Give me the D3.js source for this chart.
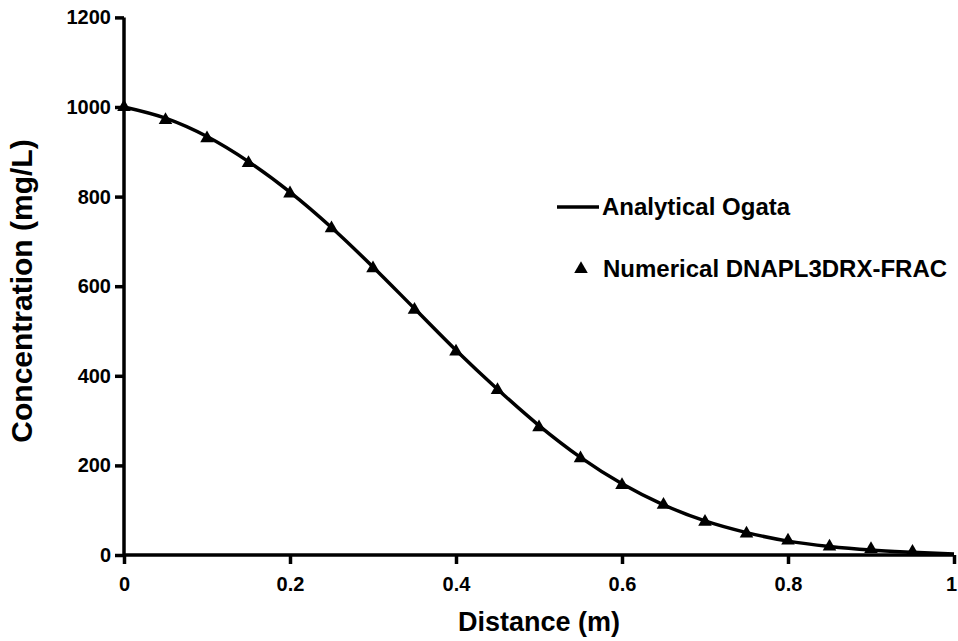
<!DOCTYPE html>
<html><head><meta charset="utf-8">
<script src="https://cdn.jsdelivr.net/npm/d3@7"></script>
<style>body{margin:0;background:#fff}svg{display:block}text{font-family:"Liberation Sans",Arial,sans-serif;font-weight:bold;fill:#000}</style>
</head><body>
<script>
const distance = [0,0.05,0.1,0.15,0.2,0.25,0.3,0.35,0.4,0.45,0.5,0.55,0.6,0.65,0.7,0.75,0.8,0.85,0.9,0.95];
const numerical = [1000,971,930,875,807,729,640,547,454,368,285,216,156,112,74,48,32,19,13,7];
const lineX = [0,0.05,0.1,0.15,0.2,0.25,0.3,0.35,0.4,0.45,0.5,0.55,0.6,0.65,0.7,0.75,0.8,0.85,0.9,0.95,1.0];
const analytical = [1000,975,934,878,810,731,643,550,457,370,289,218,159,112,76,50,31,19,11,6,2];
const xTicks = [0,0.2,0.4,0.6,0.8,1];
const yTicks = [0,200,400,600,800,1000,1200];

const W=958,H=641;
const svg=d3.select("body").append("svg").attr("width",W).attr("height",H);
const x=d3.scaleLinear().domain([0,1]).range([124,954]);
const y=d3.scaleLinear().domain([0,1200]).range([555,17.4]);

const ax=svg.append("g").attr("transform","translate(0,555)")
  .call(d3.axisBottom(x).tickValues(xTicks).tickSize(9).tickPadding(13).tickFormat(d=>d===0?"0":d===1?"1":d3.format(".1f")(d)));
const ay=svg.append("g").attr("transform","translate(124,0)")
  .call(d3.axisLeft(y).tickValues(yTicks).tickSize(9).tickPadding(4).tickFormat(d3.format("d")));
[ax,ay].forEach(g=>{
  g.selectAll("path").attr("stroke","#000").attr("stroke-width",3.5);
  g.selectAll("line").attr("stroke","#000").attr("stroke-width",3.5);
  g.selectAll("text").attr("font-size",20).attr("font-family",'"Liberation Sans",Arial,sans-serif').attr("font-weight","bold");
});
ax.selectAll(".tick text").filter(d=>d===1).attr("dx",-3);
ax.select(".domain").attr("d","M124,0H954");
ay.select(".domain").attr("d","M0,555V17.4");

const line=d3.line().x((d,i)=>x(lineX[i])).y(d=>y(d)).curve(d3.curveMonotoneX);
svg.append("path").datum(analytical).attr("d",line).attr("fill","none").attr("stroke","#000").attr("stroke-width",3.5);

const tri=d3.symbol().type(d3.symbolTriangle).size(80);
svg.append("g").selectAll("path").data(numerical).join("path")
  .attr("d",tri).attr("transform",(d,i)=>`translate(${x(distance[i])},${y(d)})`).attr("fill","#000");

svg.append("text").attr("x",539).attr("y",631).attr("text-anchor","middle").attr("font-size",27).text("Distance (m)");
svg.append("text").attr("transform","translate(32,291) rotate(-90)").attr("text-anchor","middle").attr("font-size",30).text("Concentration (mg/L)");

const lg=svg.append("g");
lg.append("line").attr("x1",557).attr("x2",599).attr("y1",207).attr("y2",207).attr("stroke","#000").attr("stroke-width",3.5);
lg.append("text").attr("x",602).attr("y",215).attr("font-size",24).text("Analytical Ogata");
lg.append("path").attr("d",tri).attr("transform","translate(581,269)").attr("fill","#000");
lg.append("text").attr("x",603).attr("y",277).attr("font-size",24).text("Numerical DNAPL3DRX-FRAC");
</script>
</body></html>
